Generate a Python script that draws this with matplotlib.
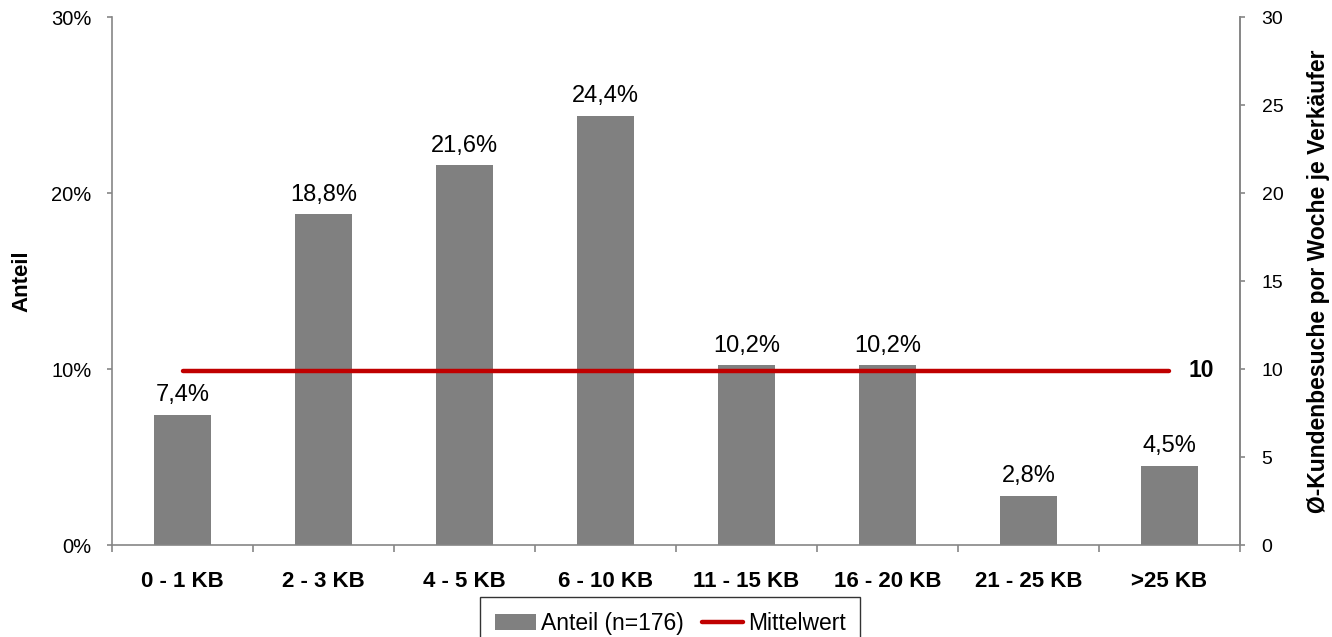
import numpy as np
import matplotlib
matplotlib.use("Agg")
import matplotlib.pyplot as plt
from matplotlib.ticker import FuncFormatter

plt.rcParams['font.family'] = ['Liberation Sans', 'DejaVu Sans']

categories = ['0 - 1 KB', '2 - 3 KB', '4 - 5 KB', '6 - 10 KB',
              '11 - 15 KB', '16 - 20 KB', '21 - 25 KB', '>25 KB']
anteil = [7.4, 18.8, 21.6, 24.4, 10.2, 10.2, 2.8, 4.5]
mittelwert = 9.9

bar_color = '#808080'
line_color = '#C00000'
axis_color = '#868686'

fig = plt.figure(figsize=(13.32, 6.37), dpi=100)
ax = fig.add_axes([0.0841, 0.1444, 0.8468, 0.8289])
x = np.arange(len(categories))

bars = ax.bar(x, anteil, width=0.4, color=bar_color, label='Anteil (n=176)', zorder=2)
for xi, v in zip(x, anteil):
    ax.annotate(f"{v:.1f}%".replace('.', ','), (xi, v), xytext=(0, 6),
                textcoords='offset points', ha='center', va='bottom', fontsize=17)

ax.set_xlim(-0.5, len(categories) - 0.5)
ax.set_ylim(0, 30)
ax.set_yticks([0, 10, 20, 30])
ax.yaxis.set_major_formatter(FuncFormatter(lambda v, p: f"{v:.0f}%"))
ax.set_xticks(x)
ax.set_xticklabels(categories, fontsize=16, fontweight='bold')
ax.set_xticks(np.arange(-0.5, len(categories)), minor=True)
ax.tick_params(axis='x', which='major', length=0, pad=19)
ax.tick_params(axis='x', which='minor', length=5, width=1.2, color=axis_color, direction='out')
ax.tick_params(axis='y', labelsize=14.5, length=3.6, width=1.2, color=axis_color, pad=11)

for s in ['top']:
    ax.spines[s].set_visible(False)
for s in ['left', 'right', 'bottom']:
    ax.spines[s].set_color(axis_color)
    ax.spines[s].set_linewidth(1.2)

ax2 = ax.twinx()
ax2.set_ylim(0, 30)
ax2.set_yticks(np.arange(0, 31, 5))
ax2.tick_params(axis='y', labelsize=14, length=3.6, width=1.2, color=axis_color, pad=12)
ax2.spines['top'].set_visible(False)
ax2.spines['right'].set_color(axis_color)
ax2.spines['right'].set_linewidth(1.2)
ax2.spines['left'].set_visible(False)
ax2.spines['bottom'].set_visible(False)

# axis titles placed directly in figure coordinates
fig.text(22 / 1332, 1 - 281 / 637, 'Anteil', rotation=90, ha='center', va='center',
         fontsize=16, fontweight='bold')
fig.text(1319 / 1332, 1 - 281 / 637, 'Ø-Kundenbesuche por Woche je Verkäufer',
         rotation=90, ha='center', va='center', fontsize=16.5, fontweight='bold')

line, = ax2.plot(x, [mittelwert] * len(x), color=line_color, linewidth=3.2,
                 solid_capstyle='round', label='Mittelwert', zorder=3)
ax2.annotate(f"{mittelwert:.0f}", (x[-1], mittelwert), xytext=(14, 0),
             textcoords='offset points', ha='left', va='center',
             fontsize=16.5, fontweight='bold')

leg = fig.legend([bars, line], ['Anteil (n=176)', 'Mittelwert'], loc='upper left',
                 bbox_to_anchor=(480 / 1332, 1 - 597 / 637), ncol=2, frameon=True,
                 fancybox=False, edgecolor='black', fontsize=16.5, handlelength=1.8,
                 handletextpad=0.2, columnspacing=0.8, borderpad=0.65, borderaxespad=0)
leg.get_frame().set_linewidth(1.0)

fig.savefig('out.png', dpi=100)
